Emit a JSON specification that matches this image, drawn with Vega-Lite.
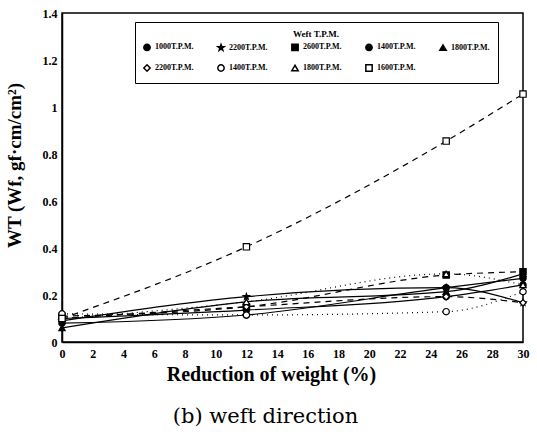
{
  "$schema": "https://vega.github.io/schema/vega-lite/v6.json",
  "autosize": "none",
  "width": 461,
  "height": 329,
  "padding": {"left": 62, "top": 13, "right": 14, "bottom": 92},
  "config": {
    "view": {"stroke": "black", "strokeWidth": 1.5},
    "font": "Liberation Serif"
  },
  "title": {
    "text": "(b)  weft direction",
    "orient": "bottom",
    "anchor": "middle",
    "dx": -27,
    "offset": 22,
    "font": "DejaVu Serif",
    "fontSize": 21,
    "fontWeight": "normal",
    "color": "black"
  },
  "data": {
    "values": [
      {"key": "s1", "x": 0, "wt": 0.10}, {"key": "s1", "x": 12, "wt": 0.136}, {"key": "s1", "x": 25, "wt": 0.193}, {"key": "s1", "x": 30, "wt": 0.243},
      {"key": "s2", "x": 0, "wt": 0.09}, {"key": "s2", "x": 12, "wt": 0.193}, {"key": "s2", "x": 25, "wt": 0.231}, {"key": "s2", "x": 30, "wt": 0.167},
      {"key": "s3", "x": 0, "wt": 0.11}, {"key": "s3", "x": 12, "wt": 0.15}, {"key": "s3", "x": 25, "wt": 0.285}, {"key": "s3", "x": 30, "wt": 0.299},
      {"key": "s4", "x": 0, "wt": 0.08}, {"key": "s4", "x": 12, "wt": 0.115}, {"key": "s4", "x": 25, "wt": 0.231}, {"key": "s4", "x": 30, "wt": 0.271},
      {"key": "s5", "x": 0, "wt": 0.06}, {"key": "s5", "x": 12, "wt": 0.171}, {"key": "s5", "x": 25, "wt": 0.214}, {"key": "s5", "x": 30, "wt": 0.29},
      {"key": "s6", "x": 0, "wt": 0.10}, {"key": "s6", "x": 12, "wt": 0.15}, {"key": "s6", "x": 25, "wt": 0.193}, {"key": "s6", "x": 30, "wt": 0.167},
      {"key": "s7", "x": 0, "wt": 0.12}, {"key": "s7", "x": 12, "wt": 0.115}, {"key": "s7", "x": 25, "wt": 0.129}, {"key": "s7", "x": 30, "wt": 0.214},
      {"key": "s8", "x": 0, "wt": 0.10}, {"key": "s8", "x": 12, "wt": 0.171}, {"key": "s8", "x": 25, "wt": 0.29}, {"key": "s8", "x": 30, "wt": 0.243},
      {"key": "s9", "x": 0, "wt": 0.10}, {"key": "s9", "x": 12, "wt": 0.405}, {"key": "s9", "x": 25, "wt": 0.855}, {"key": "s9", "x": 30, "wt": 1.055}
    ]
  },
  "encoding": {
    "x": {
      "field": "x", "type": "quantitative",
      "scale": {"domain": [0, 30], "nice": false, "zero": false},
      "axis": {
        "title": "Reduction of weight (%)",
        "values": [0, 2, 4, 6, 8, 10, 12, 14, 16, 18, 20, 22, 24, 26, 28, 30],
        "grid": false, "ticks": false,
        "domainColor": "black", "domainWidth": 1.5,
        "labelFont": "Liberation Serif", "labelFontSize": 12, "labelFontWeight": "bold", "labelColor": "black",
        "labelPadding": 6, "labelFlush": false,
        "titleFont": "Liberation Serif", "titleFontSize": 20, "titleFontWeight": "bold", "titleColor": "black",
        "titlePadding": 5, "titleX": 209
      }
    },
    "y": {
      "field": "wt", "type": "quantitative",
      "scale": {"domain": [0, 1.4], "nice": false},
      "axis": {
        "title": "WT (Wf, gf·cm/cm²)",
        "values": [0, 0.2, 0.4, 0.6, 0.8, 1, 1.2, 1.4],
        "format": "~g",
        "grid": false, "ticks": false,
        "domainColor": "black", "domainWidth": 1.5,
        "labelFont": "Liberation Serif", "labelFontSize": 12, "labelFontWeight": "bold", "labelColor": "black",
        "labelPadding": 5, "labelFlush": false,
        "titleFont": "Liberation Serif", "titleFontSize": 19, "titleFontWeight": "bold", "titleColor": "black",
        "titleY": 152, "titleX": -38
      }
    }
  },
  "layer": [
    {
      "transform": [{"filter": {"field": "key", "oneOf": ["s1", "s2", "s4", "s5"]}}],
      "mark": {"type": "line", "interpolate": "monotone", "color": "black", "strokeWidth": 1.2},
      "encoding": {"detail": {"field": "key"}}
    },
    {
      "transform": [{"filter": {"field": "key", "oneOf": ["s3", "s6", "s9"]}}],
      "mark": {"type": "line", "interpolate": "monotone", "color": "black", "strokeWidth": 1.2, "strokeDash": [6, 5]},
      "encoding": {"detail": {"field": "key"}}
    },
    {
      "transform": [{"filter": {"field": "key", "oneOf": ["s7", "s8"]}}],
      "mark": {"type": "line", "interpolate": "monotone", "color": "black", "strokeWidth": 1.2, "strokeDash": [1, 4]},
      "encoding": {"detail": {"field": "key"}}
    },
    {
      "mark": {"type": "point", "filled": true, "stroke": "black", "strokeWidth": 1.2, "size": 40, "opacity": 1},
      "encoding": {
        "shape": {
          "field": "key", "type": "nominal",
          "scale": {
            "domain": ["s1", "s2", "s3", "s4", "s5", "s6", "s7", "s8", "s9"],
            "range": ["circle", "M0,-1L0.24,-0.31L0.95,-0.31L0.38,0.12L0.59,0.81L0,0.4L-0.59,0.81L-0.38,0.12L-0.95,-0.31L-0.24,-0.31Z", "square", "circle", "triangle-up", "diamond", "circle", "triangle-up", "square"]
          },
          "legend": {
            "title": "Weft T.P.M.",
            "orient": "none", "legendX": 73, "legendY": 9,
            "direction": "horizontal", "columns": 5,
            "labelExpr": "({'s1':'1000T.P.M.','s2':'2200T.P.M.','s3':'2600T.P.M.','s4':'1400T.P.M.','s5':'1800T.P.M.','s6':'2200T.P.M.','s7':'1400T.P.M.','s8':'1800T.P.M.','s9':'1600T.P.M.'})[datum.value]",
            "strokeColor": "black", "fillColor": "white",
            "padding": 8, "columnPadding": 20, "rowPadding": 7,
            "titleAnchor": "middle", "titleFont": "Liberation Serif", "titleFontSize": 9, "titleFontWeight": "bold", "titleColor": "black", "titlePadding": 4,
            "labelFont": "Liberation Serif", "labelFontSize": 8, "labelFontWeight": "bold", "labelColor": "black", "labelOffset": 4,
            "symbolSize": 40,
            "encode": {"symbols": {"update": {"stroke": {"value": "black"}, "strokeWidth": {"value": 1}}}}
          }
        },
        "fill": {
          "field": "key", "type": "nominal",
          "scale": {
            "domain": ["s1", "s2", "s3", "s4", "s5", "s6", "s7", "s8", "s9"],
            "range": ["black", "black", "black", "black", "black", "white", "white", "white", "white"]
          },
          "legend": {
            "title": "Weft T.P.M.",
            "orient": "none", "legendX": 73, "legendY": 9,
            "direction": "horizontal", "columns": 5,
            "labelExpr": "({'s1':'1000T.P.M.','s2':'2200T.P.M.','s3':'2600T.P.M.','s4':'1400T.P.M.','s5':'1800T.P.M.','s6':'2200T.P.M.','s7':'1400T.P.M.','s8':'1800T.P.M.','s9':'1600T.P.M.'})[datum.value]",
            "strokeColor": "black", "fillColor": "white",
            "padding": 8, "columnPadding": 20, "rowPadding": 7,
            "titleAnchor": "middle", "titleFont": "Liberation Serif", "titleFontSize": 9, "titleFontWeight": "bold", "titleColor": "black", "titlePadding": 4,
            "labelFont": "Liberation Serif", "labelFontSize": 8, "labelFontWeight": "bold", "labelColor": "black", "labelOffset": 4,
            "symbolSize": 40,
            "encode": {"symbols": {"update": {"stroke": {"value": "black"}, "strokeWidth": {"value": 1}}}}
          }
        }
      }
    }
  ]
}
